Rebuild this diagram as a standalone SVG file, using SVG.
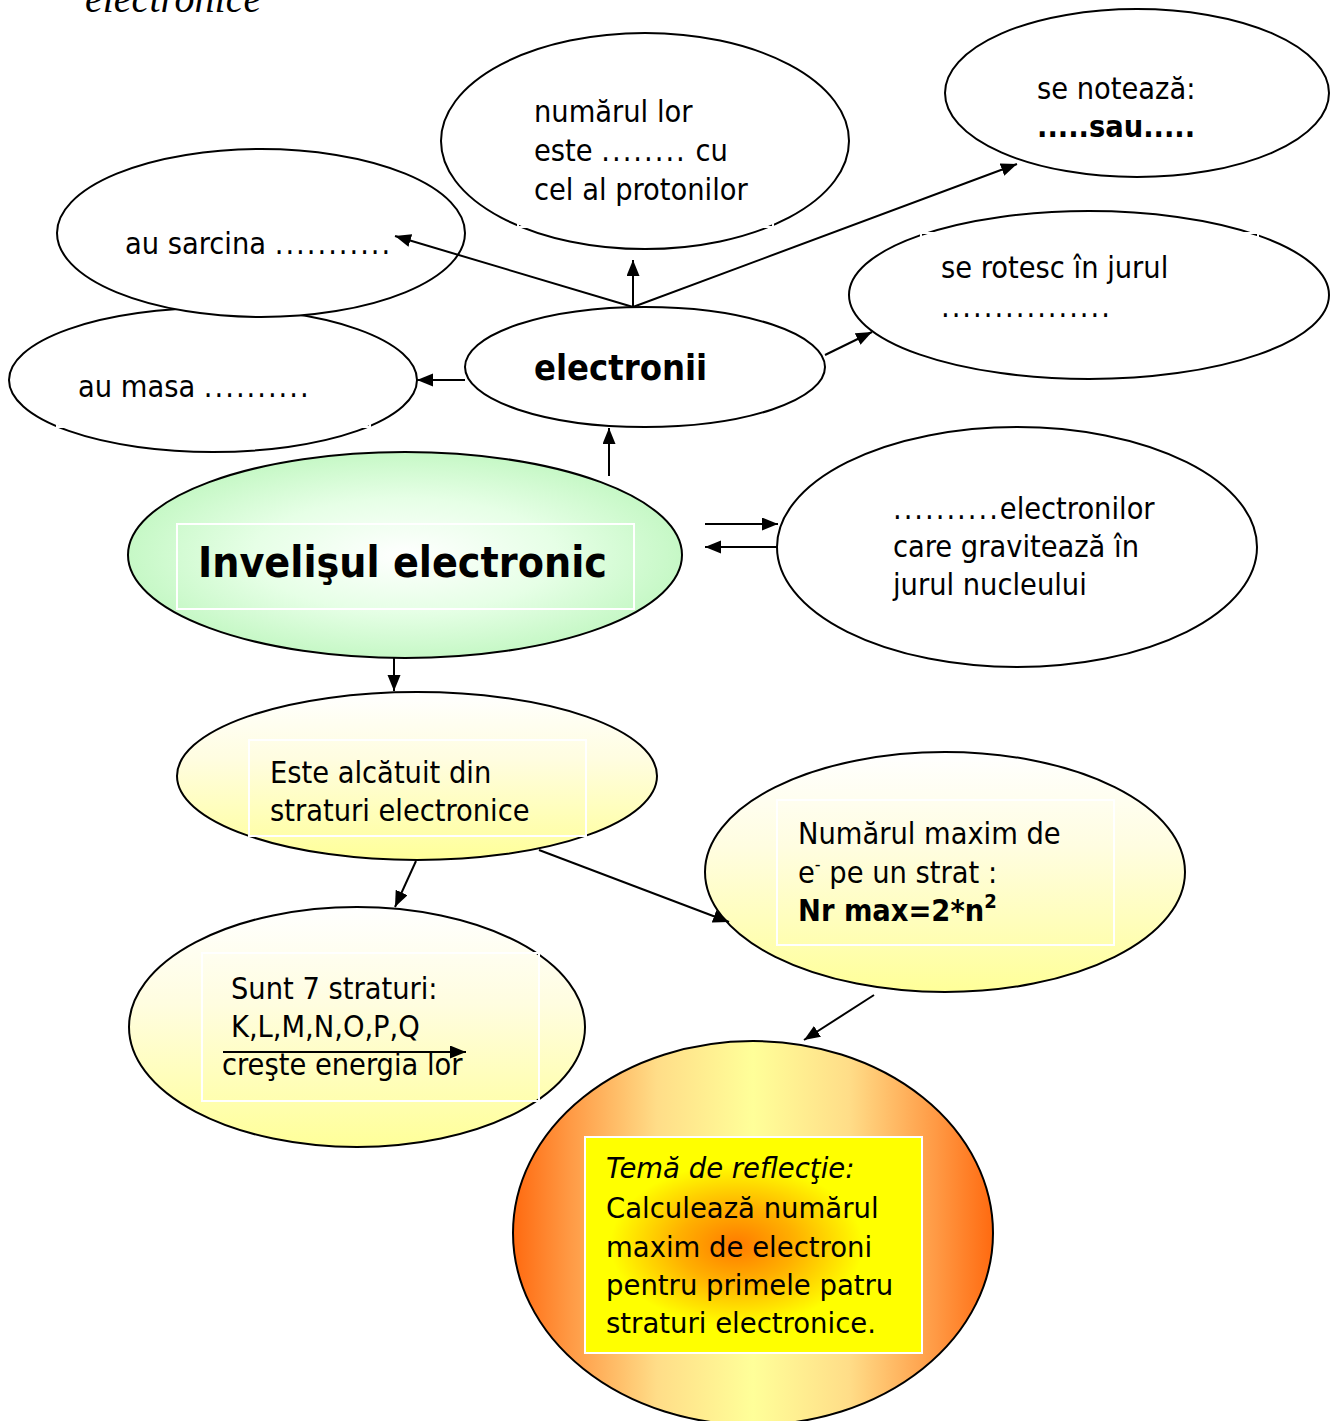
<svg xmlns="http://www.w3.org/2000/svg" width="1330" height="1421" viewBox="0 0 1330 1421">
<defs>
<style>
.e{stroke:#000;stroke-width:2}
.w{fill:#fff}
.bx{fill:none;stroke:#fff;stroke-width:2}
.t{font-family:'DejaVu Sans Condensed','DejaVu Sans',sans-serif;font-stretch:condensed;font-size:30.4px;fill:#000}
.b{font-weight:bold}
.h1{font-size:42.5px}
.h2{font-size:36px}
.d{letter-spacing:2px}
.v{font-family:'DejaVu Sans',sans-serif;font-size:27.5px;fill:#000}
.c{stroke:#000;stroke-width:2;fill:none;marker-end:url(#ah)}
</style>
<marker id="ah" markerUnits="userSpaceOnUse" markerWidth="17" markerHeight="14" refX="16" refY="6.5" orient="auto">
<path d="M0,0 L16,6.5 L0,13 z" fill="#000"/>
</marker>
<radialGradient id="gGreen" cx="0.5" cy="0.5" r="0.5">
<stop offset="0" stop-color="#ffffff"/>
<stop offset="0.55" stop-color="#e6ffe6"/>
<stop offset="1" stop-color="#c6f8c6"/>
</radialGradient>
<linearGradient id="gYel" x1="0" y1="0" x2="0" y2="1">
<stop offset="0" stop-color="#ffffff"/>
<stop offset="0.4" stop-color="#fffde0"/>
<stop offset="1" stop-color="#ffff99"/>
</linearGradient>
<linearGradient id="gOr" x1="0" y1="0" x2="1" y2="0">
<stop offset="0" stop-color="#ff6a10"/>
<stop offset="0.12" stop-color="#ff9a45"/>
<stop offset="0.3" stop-color="#ffdd88"/>
<stop offset="0.5" stop-color="#ffff99"/>
<stop offset="0.7" stop-color="#ffdd88"/>
<stop offset="0.88" stop-color="#ff9a45"/>
<stop offset="1" stop-color="#ff6a10"/>
</linearGradient>
<radialGradient id="gBox" cx="0.45" cy="0.5" r="0.5">
<stop offset="0" stop-color="#ff7a00"/>
<stop offset="0.35" stop-color="#ffb000"/>
<stop offset="0.75" stop-color="#ffff00"/>
<stop offset="1" stop-color="#ffff00"/>
</radialGradient>
</defs>
<rect width="1330" height="1421" fill="#fff"/>

<text x="85" y="12" font-family="'Liberation Serif',serif" font-style="italic" font-size="40" fill="#000">electronice</text>

<g id="node-masa">
<ellipse class="e w" cx="213" cy="380" rx="204" ry="72"/>
<rect class="bx" x="57" y="355" width="313" height="72"/>
<text class="t" x="78" y="397">au masa <tspan class="d">..........</tspan></text>
</g>

<g id="node-sarcina">
<ellipse class="e w" cx="261" cy="233" rx="204" ry="84"/>
<text class="t" x="125" y="254">au sarcina <tspan class="d">...........</tspan></text>
</g>

<g id="node-numarul">
<ellipse class="e w" cx="645" cy="141" rx="204" ry="108"/>
<rect class="bx" x="518" y="75" width="255" height="152"/>
<text class="t" x="534" y="122">numărul lor</text>
<text class="t" x="534" y="161">este <tspan class="d">........</tspan> cu</text>
<text class="t" x="534" y="200">cel al protonilor</text>
</g>

<g id="node-noteaza">
<ellipse class="e w" cx="1137" cy="93" rx="192" ry="84"/>
<text class="t" x="1037" y="99">se notează:</text>
<text class="t b" x="1037" y="137">.....sau.....</text>
</g>

<g id="node-rotesc">
<ellipse class="e w" cx="1089" cy="295" rx="240" ry="84"/>
<rect class="bx" x="921" y="233" width="337" height="97"/>
<text class="t" x="941" y="278">se rotesc în jurul</text>
<text class="t d" x="941" y="317">................</text>
</g>

<g id="node-electronii">
<ellipse class="e w" cx="645" cy="367" rx="180" ry="60"/>
<text class="t b h2" x="534" y="380">electronii</text>
</g>

<g id="node-invelisul">
<ellipse class="e" cx="405" cy="555" rx="277" ry="103" fill="url(#gGreen)"/>
<rect class="bx" x="177" y="524" width="457" height="85"/>
<text class="t b h1" x="198" y="577">Invelişul electronic</text>
</g>

<g id="node-gravit">
<ellipse class="e w" cx="1017" cy="547" rx="240" ry="120"/>
<text class="t" x="893" y="519"><tspan class="d">..........</tspan>electronilor</text>
<text class="t" x="893" y="557">care gravitează în</text>
<text class="t" x="893" y="595">jurul nucleului</text>
</g>

<g id="node-este">
<ellipse class="e" cx="417" cy="776" rx="240" ry="84" fill="url(#gYel)"/>
<rect class="bx" x="249" y="740" width="337" height="96"/>
<text class="t" x="270" y="783">Este alcătuit din</text>
<text class="t" x="270" y="821">straturi electronice</text>
</g>

<g id="node-nrmax">
<ellipse class="e" cx="945" cy="872" rx="240" ry="120" fill="url(#gYel)"/>
<rect class="bx" x="777" y="800" width="337" height="145"/>
<text class="t" x="798" y="844">Numărul maxim de</text>
<text class="t" x="798" y="883">e<tspan font-size="18" dy="-13">-</tspan><tspan dy="13"> pe un strat :</tspan></text>
<text class="t b" x="798" y="921">Nr max=2*n<tspan font-size="20" dy="-13">2</tspan></text>
</g>

<g id="node-sunt">
<ellipse class="e" cx="357" cy="1027" rx="228" ry="120" fill="url(#gYel)"/>
<rect class="bx" x="202" y="953" width="337" height="148"/>
<text class="t" x="231" y="999">Sunt 7 straturi:</text>
<text class="t" x="231" y="1037">K,L,M,N,O,P,Q</text>
<text class="t" x="222" y="1075">creşte energia lor</text>
<line class="c" x1="223" y1="1052" x2="466" y2="1052"/>
</g>

<g id="node-tema">
<ellipse class="e" cx="753" cy="1233" rx="240" ry="192" fill="url(#gOr)"/>
<rect x="585" y="1137" width="337" height="216" fill="url(#gBox)" stroke="#fff" stroke-width="2"/>
<text class="v" x="606" y="1178" font-style="italic">Temă de reflecţie:</text>
<text class="v" x="606" y="1218">Calculează numărul</text>
<text class="v" x="606" y="1257">maxim de electroni</text>
<text class="v" x="606" y="1295">pentru primele patru</text>
<text class="v" x="606" y="1333">straturi electronice.</text>
</g>

<g id="connectors">
<line class="c" x1="633" y1="307" x2="395" y2="236"/>
<line class="c" x1="633" y1="307" x2="633" y2="260"/>
<line class="c" x1="633" y1="307" x2="1017" y2="164"/>
<line class="c" x1="465" y1="380" x2="417" y2="380"/>
<line class="c" x1="825" y1="355" x2="872" y2="332"/>
<line class="c" x1="609" y1="476" x2="609" y2="428"/>
<line class="c" x1="705" y1="524" x2="778" y2="524"/>
<line class="c" x1="778" y1="547" x2="705" y2="547"/>
<line class="c" x1="394" y1="658" x2="394" y2="691"/>
<line class="c" x1="416" y1="861" x2="395" y2="907"/>
<line class="c" x1="539" y1="850" x2="729" y2="922"/>
<line class="c" x1="874" y1="995" x2="804" y2="1040"/>
</g>
</svg>
